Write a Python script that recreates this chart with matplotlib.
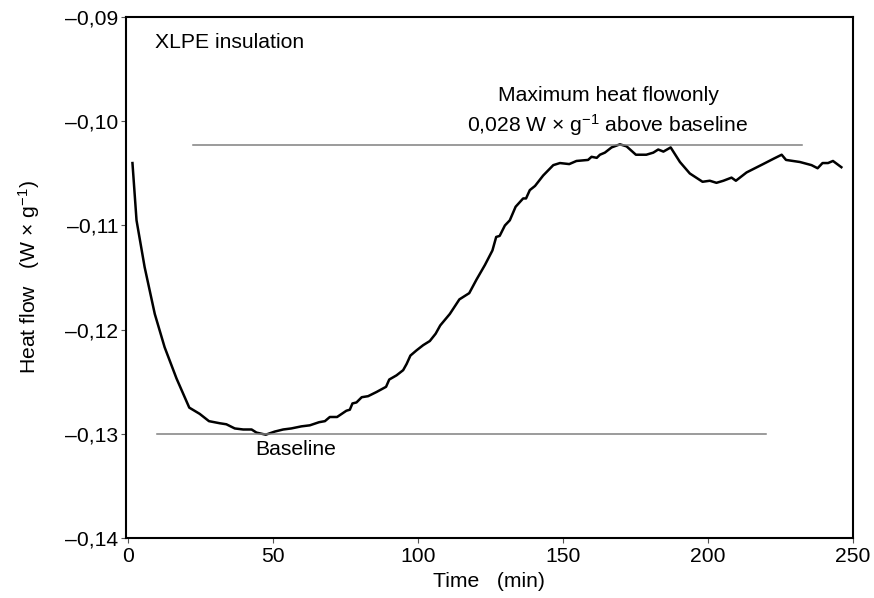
import matplotlib.pyplot as plt
from matplotlib.ticker import FixedLocator, FixedFormatter

plt.rcParams['font.family'] = ['Liberation Sans', 'DejaVu Sans']
plt.rcParams['mathtext.fontset'] = 'custom'
plt.rcParams['mathtext.rm'] = 'Liberation Sans'
plt.rcParams['mathtext.it'] = 'Liberation Sans:italic'

# Heat flow curve
time_min = [1.5, 2.9, 5.7, 9.2, 12.6, 16.7, 21.1, 24.7, 27.9, 31.6, 33.9, 36.8,
            39.7, 42.6, 44.3, 47.5, 50.6, 53.5, 56.3, 59.8, 62.7, 65.9, 67.9,
            69.6, 72.1, 75.3, 76.5, 77.4, 78.8, 80.6, 82.8, 85.7, 89.0, 90.1,
            92.6, 94.9, 96.1, 97.4, 99.5, 101.8, 104.1, 106.1, 107.7, 111.0,
            114.3, 117.7, 120.2, 123.1, 125.7, 127.0, 128.2, 130.0, 131.7,
            133.7, 136.3, 137.3, 138.6, 140.4, 143.2, 146.7, 149.0, 152.2,
            154.7, 158.7, 159.9, 161.7, 162.8, 164.5, 166.8, 169.7, 172.0,
            175.2, 178.8, 181.2, 182.9, 184.7, 187.2, 190.4, 193.8, 198.2,
            200.7, 203.0, 205.4, 208.2, 209.7, 213.4, 219.1, 222.6, 225.5,
            227.0, 231.8, 235.8, 237.9, 239.6, 241.5, 243.2, 246.1]
heat_flow = [-0.1040, -0.1095, -0.1140, -0.1185, -0.1217, -0.1247, -0.1275,
             -0.1281, -0.1288, -0.1290, -0.1291, -0.1295, -0.1296, -0.1296,
             -0.1299, -0.1301, -0.1298, -0.1296, -0.1295, -0.1293, -0.1292,
             -0.1289, -0.1288, -0.1284, -0.1284, -0.1278, -0.1277, -0.1271,
             -0.1270, -0.1265, -0.1264, -0.1260, -0.1255, -0.1248, -0.1244,
             -0.1239, -0.1233, -0.1225, -0.1220, -0.1215, -0.1211, -0.1204,
             -0.1196, -0.1185, -0.1171, -0.1165, -0.1152, -0.1138, -0.1124,
             -0.1111, -0.1110, -0.1100, -0.1095, -0.1082, -0.1074, -0.1074,
             -0.1066, -0.1062, -0.1052, -0.1042, -0.1040, -0.1041, -0.1038,
             -0.1037, -0.1034, -0.1035, -0.1032, -0.1030, -0.1025, -0.1022,
             -0.1024, -0.1032, -0.1032, -0.1030, -0.1027, -0.1029, -0.1025,
             -0.1039, -0.1050, -0.1058, -0.1057, -0.1059, -0.1057, -0.1054,
             -0.1057, -0.1049, -0.1041, -0.1036, -0.1032, -0.1037, -0.1039,
             -0.1042, -0.1045, -0.1040, -0.1040, -0.1038, -0.1044]

# reference lines
baseline_y = -0.130
baseline_x = [10.0, 220.0]
max_y = -0.10227
max_x = [22.4, 232.6]

x_ticks = [0, 50, 100, 150, 200, 250]
y_ticks = [-0.09, -0.10, -0.11, -0.12, -0.13, -0.14]
y_tick_labels = ['\u20130,09', '\u20130,10', '\u20130,11', '\u20130,12', '\u20130,13', '\u20130,14']

fs = 15.2

fig = plt.figure(figsize=(8.74, 5.98), dpi=100)
ax = fig.add_axes([0.1436, 0.1008, 0.8320, 0.8702])

ax.plot(time_min, heat_flow, color='black', lw=1.8, solid_joinstyle='round')
ax.plot(baseline_x, [baseline_y, baseline_y], color='#808080', lw=1.1)
ax.plot(max_x, [max_y, max_y], color='#808080', lw=1.1)

ax.set_xlim(-0.9, 250)
ax.set_ylim(-0.14, -0.09)
ax.xaxis.set_major_locator(FixedLocator(x_ticks))
ax.yaxis.set_major_locator(FixedLocator(y_ticks))
ax.yaxis.set_major_formatter(FixedFormatter(y_tick_labels))

for side in ['top', 'right', 'left', 'bottom']:
    ax.spines[side].set_linewidth(1.5)
ax.tick_params(direction='out', length=3.5, width=0.8, color='#555555',
               labelsize=fs, pad=1.5, top=False, right=False)
ax.tick_params(axis='x', pad=3.5)

ax.set_xlabel('Time   (min)', fontsize=fs, labelpad=4)
ax.set_ylabel('Heat flow   (W \u00d7 g$^{-1}$)', fontsize=fs, labelpad=17)

ax.text(9.2, -0.09237, 'XLPE insulation', fontsize=fs, ha='left', va='center')
ax.text(165.6, -0.09747, 'Maximum heat flowonly', fontsize=fs, ha='center', va='center')
ax.text(165.6, -0.10035, '0,028 W \u00d7 g$^{-1}$ above baseline', fontsize=fs,
        ha='center', va='center')
ax.text(57.7, -0.13157, 'Baseline', fontsize=fs, ha='center', va='center')

fig.savefig('out.png', dpi=100)
